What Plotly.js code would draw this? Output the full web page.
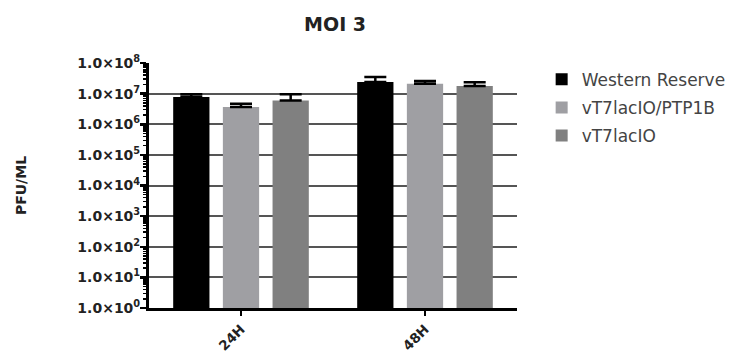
<!DOCTYPE html>
<html><head><meta charset="utf-8">
<script src="https://cdn.plot.ly/plotly-3.0.1.min.js"></script>
<style>body{margin:0;background:#fff}#c{width:743px;height:353px}</style>
</head><body><div id="c"></div>
<script>
const categories = ["24H", "48H"];
const seriesNames = ["Western Reserve", "vT7lacIO/PTP1B", "vT7lacIO"];
const westernReserve = [7.7e6, 2.4e7];
const westernReserveErr = [1.8e6, 1.1e7];
const ptp1b = [3.65e6, 2.1e7];
const ptp1bErr = [1.0e6, 5.0e6];
const lacIO = [6.0e6, 1.77e7];
const lacIOErr = [3.5e6, 6.0e6];
const tickValues = [1, 10, 100, 1e3, 1e4, 1e5, 1e6, 1e7, 1e8];
const tickLabels = ["1.0×10<sup>0</sup>","1.0×10<sup>1</sup>","1.0×10<sup>2</sup>","1.0×10<sup>3</sup>","1.0×10<sup>4</sup>","1.0×10<sup>5</sup>","1.0×10<sup>6</sup>","1.0×10<sup>7</sup>","1.0×10<sup>8</sup>"];
const colors = ["#000000", "#9f9fa3", "#808080"];

const values = [westernReserve, ptp1b, lacIO];
const errs = [westernReserveErr, ptp1bErr, lacIOErr];
const traces = seriesNames.map((n, i) => ({
  type: "bar", name: n, x: categories, y: values[i], legendgroup: "g" + i,
  marker: {color: colors[i], line: {width: 0}},
  error_y: {type: "data", array: errs[i], arrayminus: [0, 0], symmetric: false, color: "#000", thickness: 2.5, width: 11}
}));

const font = "DejaVu Sans, sans-serif";
const layout = {
  width: 743, height: 353,
  margin: {l: 149, r: 223, t: 63, b: 45},
  paper_bgcolor: "#fff", plot_bgcolor: "#fff",
  barmode: "group", bargap: 0.19, bargroupgap: 0.27,
  showlegend: true,
  title: {text: "<b>MOI 3</b>", x: 0.451, xanchor: "center", y: 0.93, yanchor: "middle", font: {family: font, size: 19, color: "#222"}},
  xaxis: {
    showline: true, linecolor: "#000", linewidth: 3,
    ticks: "outside", ticklen: 5, tickwidth: 2, tickcolor: "#000",
    tickangle: -45, tickfont: {family: font, size: 13.5, color: "#222", weight: "bold"},
    showgrid: false, zeroline: false
  },
  yaxis: {
    type: "log", range: [0, 8],
    showline: true, linecolor: "#000", linewidth: 3,
    tickmode: "array", tickvals: tickValues, ticktext: tickLabels,
    ticks: "outside", ticklen: 6, tickwidth: 2.5, tickcolor: "#000",
    ticklabelstandoff: -3,
    tickfont: {family: font, size: 14, color: "#222", weight: "bold"},
    showgrid: true, gridcolor: "#555", gridwidth: 2, zeroline: false,
    minor: {tickvals: [], ticks: "outside", ticklen: 3, tickwidth: 1.5, tickcolor: "#000", showgrid: false},
    title: {text: "<b>PFU/ML</b>", standoff: 48, font: {family: font, size: 14, color: "#222"}}
  },
  legend: {x: 1.067, xanchor: "left", y: 1.005, yanchor: "top", font: {family: font, size: 17, color: "#444"}, tracegroupgap: 3, traceorder: "grouped", itemsizing: "constant", bgcolor: "rgba(0,0,0,0)"}
};
const minorVals = [];
for (let d = 0; d < 8; d++) for (let k = 2; k <= 9; k++) minorVals.push(k * Math.pow(10, d));
layout.yaxis.minor.tickvals = minorVals;

Plotly.newPlot("c", traces, layout, {staticPlot: true});
</script></body></html>
